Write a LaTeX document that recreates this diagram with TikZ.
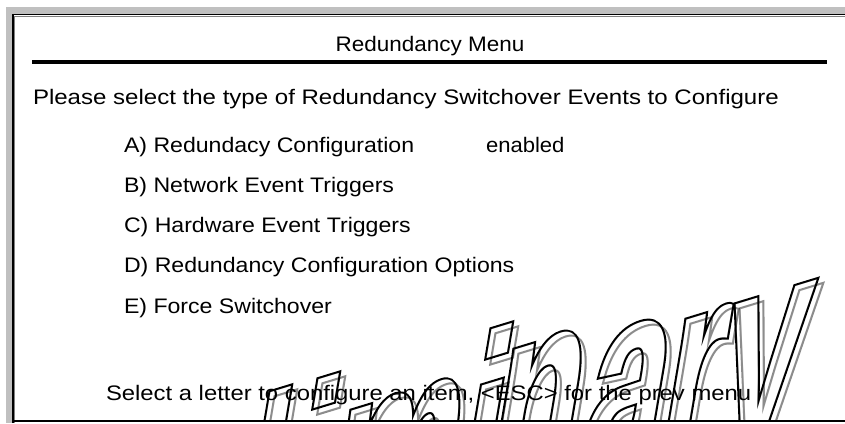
\documentclass[tikz,border=0pt]{standalone}
\usepackage{fontspec}
\setmainfont{Liberation Sans}
\newfontfamily\wmB{Liberation Sans Bold}[FakeSlant=0.5,FakeStretch=0.6,FakeBold=1.6]
\newfontfamily\wmR{Liberation Sans Bold}[FakeSlant=0.5,FakeStretch=0.6]
\definecolor{framegray}{HTML}{C0C0C0}
\definecolor{edgegray}{HTML}{808080}
\definecolor{wmgray}{HTML}{8C8C8C}
\newcommand{\X}[2]{\scalebox{#1}[1]{#2}}
% outlined watermark letter: name, colour, position, text
\newcommand{\wmletter}[4]{%
  \begin{scope}[transparency group,blend mode=multiply]
    \node[wmk,text=#2,font=\wmB\fontsize{260}{260}\selectfont] (#1-o) at #3 {#4};
    \node[wmk,text=white,font=\wmR\fontsize{260}{260}\selectfont] (#1-f) at #3 {#4};
  \end{scope}}
\begin{document}
\begin{tikzpicture}[x=1pt,y=-1pt,
  txt/.style={anchor=base west,inner sep=0pt,outer sep=0pt,font=\fontsize{21}{25}\selectfont},
  ttl/.style={anchor=base,inner sep=0pt,outer sep=0pt,font=\fontsize{21}{25}\selectfont},
  wmk/.style={anchor=base west,inner sep=0pt,outer sep=0pt,rotate=17,transform shape},
]
\useasboundingbox (0,0) rectangle (845,423);
\fill[white] (0,0) rectangle (845,423);
\fill[framegray] (6,7) rectangle (845,423);
\fill[white] (13,14) rectangle (845,423);
\draw[black,line width=1.4pt] (13,423) -- (13,14.5) -- (845,14.5);
\draw[edgegray,line width=0.8pt] (14.6,423) -- (14.6,16) -- (845,16);
\draw[black,line width=1.4pt] (13,421) -- (845,421);

% header
\node[ttl] (title) at (430,51) {\X{1.07}{Redundancy Menu}};
\coordinate (ruleL) at (32,62);
\coordinate (ruleR) at (827,62);
\draw[line width=4pt] (ruleL) -- (ruleR);
\node[txt] (prompt) at (33,104) {\X{1.145}{Please select the type of Redundancy Switchover Events to Configure}};
\node[txt] (itemA) at (124,152) {\X{1.10}{A) Redundacy Configuration}};
\node[txt] (enabled) at (486,152) {\X{1.05}{enabled}};
\node[txt] (itemB) at (124,192.2) {\X{1.10}{B) Network Event Triggers}};
\node[txt] (itemC) at (124,232.5) {\X{1.10}{C) Hardware Event Triggers}};
\node[txt] (itemD) at (124,272.7) {\X{1.10}{D) Redundancy Configuration Options}};
\node[txt] (itemE) at (124,313) {\X{1.10}{E) Force Switchover}};
\node[txt] (footer) at (106,400.5) {\X{1.135}{Select a letter to configure an item, <ESC> for the prev menu}};

% watermark "Preliminary"
\begin{scope}
\clip (14,16) rectangle (845,420.3);
\foreach \col/\dx/\dy in {wmgray/5/5, black/0/0}{
  \begin{scope}[shift={(\dx,\dy)}]
  \wmletter{wm-\col-P}{\col}{(17,664)}{Pre}
  \wmletter{wm-\col-l}{\col}{(225,603)}{l}
  \wmletter{wm-\col-i1}{\col}{(273,590)}{i}
  \wmletter{wm-\col-m}{\col}{(316,565)}{m}
  \wmletter{wm-\col-i2}{\col}{(446,540)}{i}
  \wmletter{wm-\col-n}{\col}{(479,504)}{n}
  \wmletter{wm-\col-a}{\col}{(573,489)}{a}
  \wmletter{wm-\col-r}{\col}{(651,474)}{r}
  \wmletter{wm-\col-y}{\col}{(709,456)}{y}
  \end{scope}
}
\end{scope}
\end{tikzpicture}
\end{document}
